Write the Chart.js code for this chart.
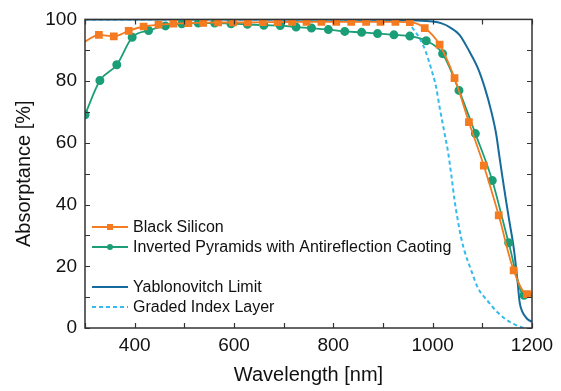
<!DOCTYPE html>
<html>
<head>
<meta charset="utf-8">
<script src="https://cdn.jsdelivr.net/npm/chart.js@4.4.1/dist/chart.umd.min.js"></script>
<style>
  html, body { margin: 0; padding: 0; background: #fff; }
  #wrap { width: 561px; height: 391px; }
</style>
</head>
<body>
<div id="wrap"><canvas id="chart"></canvas></div>
<script>
// Black Silicon (orange squares)
const blackSiWl = [300, 328, 358, 388, 418, 448, 478, 508, 538, 568, 598, 628, 658, 688, 717, 746, 776, 806, 836, 866, 895, 925, 954, 984, 1014, 1044, 1073, 1103, 1133, 1163, 1190, 1200];
const blackSiAbs = [92.8, 95.0, 94.5, 96.3, 97.7, 98.3, 98.6, 98.8, 98.9, 99.0, 99.0, 99.0, 99.1, 99.1, 99.2, 99.2, 99.2, 99.2, 99.2, 99.2, 99.2, 99.2, 99.1, 97.2, 91.8, 81.0, 66.7, 52.6, 36.5, 18.7, 11.0, 11.2];

// Inverted pyramids with AR coating (green circles)
const pyramidWl = [300, 330, 364, 395, 428, 462, 495, 528, 561, 594, 627, 660, 693, 725, 756, 790, 823, 857, 889, 922, 954, 987, 1020, 1053, 1086, 1120, 1153, 1184, 1200];
const pyramidAbs = [69.1, 80.2, 85.3, 94.2, 96.4, 97.9, 98.6, 98.8, 98.8, 98.6, 98.4, 98.1, 98.0, 97.5, 97.2, 96.7, 96.1, 95.8, 95.4, 95.0, 94.6, 93.1, 88.9, 77.0, 63.0, 47.8, 27.6, 10.6, 10.5];

// Yablonovitch limit (dark blue)
const yabloWl = [300, 600, 900, 960, 1000, 1018, 1034, 1054, 1074, 1091, 1105, 1118, 1128, 1134, 1141, 1148, 1154, 1164, 1171, 1175, 1180, 1190, 1200];
const yabloAbs = [100, 100, 99.9, 99.7, 99.3, 98.7, 97.5, 95.0, 89.6, 84.2, 77.8, 70.2, 62.7, 56.0, 48.3, 41.0, 35.0, 25.0, 15.0, 8.5, 5.5, 3.0, 2.0];

// Graded index layer (light blue dashed)
const gradedWl = [300, 600, 900, 940, 955, 965, 975, 985, 997, 1007, 1014, 1024, 1031, 1038, 1044, 1050, 1057, 1064, 1078, 1091, 1111, 1131, 1158, 1180, 1186];
const gradedAbs = [100, 100, 99.9, 99.5, 98.0, 96.0, 93.5, 90.0, 84.0, 78.0, 71.5, 63.0, 57.0, 49.0, 41.5, 35.5, 29.5, 25.0, 18.5, 13.0, 8.7, 5.0, 1.7, 0.2, 0];

const xTicksMin = 300, xTicksMax = 1200, xStep = 100;
const yTicksMin = 0, yTicksMax = 100, yStep = 10;

const FONT = "'Liberation Sans', Arial, sans-serif";

function pts(xs, ys) {
    return xs.map((x, i) => ({ x, y: ys[i] }));
}

const datasets = [
    {
        label: "Black Silicon",
        data: pts(blackSiWl, blackSiAbs),
        borderColor: "#F47B20",
        backgroundColor: "#F47B20",
        borderWidth: 1.8,
        pointStyle: "rect",
        pointRadius: (c) => (c.dataIndex === 0 || c.dataIndex === blackSiWl.length - 1) ? 0 : 4.2,
        cubicInterpolationMode: "monotone",
        clip: 0
    },
    {
        label: "Inverted Pyramids with Antireflection Caoting",
        data: pts(pyramidWl, pyramidAbs),
        borderColor: "#1B9E77",
        backgroundColor: "#1B9E77",
        borderWidth: 1.8,
        pointStyle: "circle",
        pointRadius: (c) => (c.dataIndex === pyramidWl.length - 1) ? 0 : 3.6,
        cubicInterpolationMode: "monotone",
        clip: 0
    },
    {
        label: "Yablonovitch Limit",
        data: pts(yabloWl, yabloAbs),
        borderColor: "#176B9C",
        backgroundColor: "#176B9C",
        borderWidth: 2,
        pointRadius: 0,
        cubicInterpolationMode: "monotone",
        clip: 0
    },
    {
        label: "Graded Index Layer",
        data: pts(gradedWl, gradedAbs),
        borderColor: "#33BBEE",
        backgroundColor: "#33BBEE",
        borderWidth: 2,
        borderDash: [4, 3],
        pointRadius: 0,
        cubicInterpolationMode: "monotone",
        clip: 0
    }
];

// inward ticks on all four sides plus the frame
const frameTicks = {
    id: "frameTicks",
    afterDatasetsDraw(chart) {
        const { ctx, chartArea: a, scales } = chart;
        const len = 5;
        ctx.save();
        ctx.strokeStyle = "#333";
        ctx.lineWidth = 1.2;
        ctx.beginPath();
        scales.x.ticks.forEach((t) => {
            const px = Math.round(scales.x.getPixelForValue(t.value)) + 0.5;
            ctx.moveTo(px, a.bottom); ctx.lineTo(px, a.bottom - len);
            ctx.moveTo(px, a.top); ctx.lineTo(px, a.top + len);
        });
        scales.y.ticks.forEach((t) => {
            const py = Math.round(scales.y.getPixelForValue(t.value)) + 0.5;
            ctx.moveTo(a.left, py); ctx.lineTo(a.left + len, py);
            ctx.moveTo(a.right, py); ctx.lineTo(a.right - len, py);
        });
        ctx.stroke();
        ctx.lineWidth = 1.5;
        ctx.strokeRect(a.left, a.top, a.right - a.left, a.bottom - a.top);
        ctx.restore();
    }
};

// legend inside the plot, with an empty row between the two groups
const legendRows = [0, 1, null, 2, 3];
const insideLegend = {
    id: "insideLegend",
    afterDraw(chart) {
        const { ctx } = chart;
        const x0 = 92, x1 = 128, tx = 133, y0 = 227, dy = 20;
        ctx.save();
        ctx.font = "16px " + FONT;
        ctx.textBaseline = "middle";
        legendRows.forEach((idx, row) => {
            if (idx === null) return;
            const ds = chart.data.datasets[idx];
            const y = y0 + row * dy;
            ctx.strokeStyle = ds.borderColor;
            ctx.lineWidth = ds.borderWidth;
            ctx.setLineDash(ds.borderDash || []);
            ctx.beginPath();
            ctx.moveTo(x0, y);
            ctx.lineTo(x1, y);
            ctx.stroke();
            ctx.setLineDash([]);
            ctx.fillStyle = ds.backgroundColor;
            const mx = (x0 + x1) / 2;
            if (ds.pointStyle === "rect") {
                ctx.fillRect(mx - 3, y - 3, 6, 6);
            } else if (ds.pointStyle === "circle") {
                ctx.beginPath();
                ctx.arc(mx, y, 3, 0, Math.PI * 2);
                ctx.fill();
            }
            ctx.fillStyle = "#111";
            ctx.fillText(ds.label, tx, y + 1);
        });
        ctx.restore();
    }
};

new Chart(document.getElementById("chart"), {
    type: "line",
    data: { datasets },
    options: {
        responsive: true,
        maintainAspectRatio: false,
        animation: false,
        layout: { padding: { left: 0, right: 29, top: 17, bottom: 0 } },
        plugins: {
            legend: { display: false },
            tooltip: { enabled: false }
        },
        scales: {
            x: {
                type: "linear",
                min: xTicksMin,
                max: xTicksMax,
                ticks: {
                    stepSize: xStep,
                    autoSkip: false,
                    maxRotation: 0,
                    padding: 6,
                    color: "#111",
                    font: { family: FONT, size: 19 },
                    callback: (v) => (v % 200 === 0 ? String(v) : "")
                },
                grid: { display: false, drawTicks: false },
                border: { display: false },
                title: {
                    display: true,
                    text: "Wavelength [nm]",
                    color: "#111",
                    font: { family: FONT, size: 20 },
                    padding: { top: 0, bottom: 4 }
                },
                afterFit: (s) => { s.height = 63; }
            },
            y: {
                min: yTicksMin,
                max: yTicksMax,
                ticks: {
                    stepSize: yStep,
                    autoSkip: false,
                    padding: 8,
                    color: "#111",
                    font: { family: FONT, size: 19 },
                    callback: (v) => (v % 20 === 0 ? String(v) : "")
                },
                grid: { display: false, drawTicks: false },
                border: { display: false },
                title: {
                    display: true,
                    text: "Absorptance [%]",
                    color: "#111",
                    font: { family: FONT, size: 20 },
                    padding: { top: 12, bottom: 0 }
                },
                afterFit: (s) => { s.width = 85; }
            }
        }
    },
    plugins: [frameTicks, insideLegend]
});
</script>
</body>
</html>
